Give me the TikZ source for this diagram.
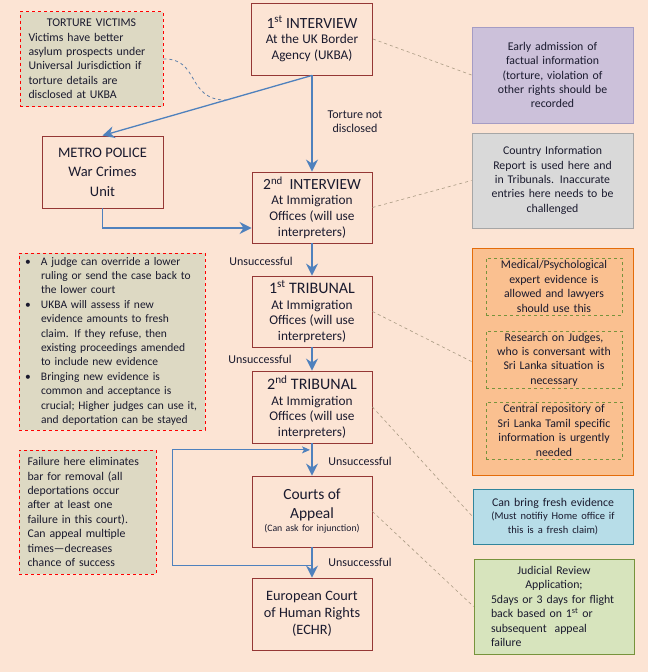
\documentclass[tikz,border=0pt]{standalone}
\usepackage{fontspec}
\setmainfont{Carlito}
\usetikzlibrary{arrows.meta,calc}
\definecolor{bg}{HTML}{FCE4D4}
\definecolor{stageline}{HTML}{953735}
\definecolor{notefill}{HTML}{DDD9C3}
\definecolor{flowblue}{HTML}{4F81BD}
\definecolor{linkgrey}{HTML}{A89A82}
\definecolor{purplefill}{HTML}{CCC1DA}
\definecolor{purpleline}{HTML}{A59CC4}
\definecolor{greyfill}{HTML}{D9D9D9}
\definecolor{greyline}{HTML}{A6A6A6}
\definecolor{orangefill}{HTML}{FAC090}
\definecolor{orangeline}{HTML}{E46C0A}
\definecolor{greenline}{HTML}{77933C}
\definecolor{greenfill}{HTML}{D7E4BD}
\definecolor{bluefill}{HTML}{B7DDE8}
\definecolor{blueline}{HTML}{31859C}
\definecolor{inktext}{HTML}{1A1A2E}
\newcommand\boxhead{\fontsize{15.5}{19}\selectfont}
\newcommand\boxtext{\fontsize{13.3}{15.7}\selectfont}
\newcommand\notetext{\fontsize{11.8}{14.4}\selectfont}
\tikzset{
  stage/.style={draw=stageline, line width=0.9pt, fill=bg, minimum width=120pt,
    minimum height=71pt, text width=118pt, align=center, inner sep=1pt, text=inktext},
  note/.style={draw=red, dashed, line width=0.7pt, fill=notefill, inner sep=0pt,
    font=\notetext, text=inktext},
  card/.style={line width=0.9pt, inner sep=0pt, font=\notetext, align=center, text=inktext},
  flow/.style={draw=flowblue, line width=1.3pt, -{Stealth[length=12pt,width=12pt,inset=4pt]}},
  back/.style={draw=flowblue, line width=1pt, -{Stealth[length=8pt,width=7pt,inset=2pt]}},
  link/.style={draw=linkgrey, dashed, line width=0.6pt},
  hint/.style={draw=flowblue!70!gray, dashed, line width=0.8pt},
  lbl/.style={font=\fontsize{12}{14.3}\selectfont, text=inktext, align=center}
}
\begin{document}
\begin{tikzpicture}[x=1pt,y=-1pt]
% background
\fill[bg] (0,0) rectangle (648,672);
\useasboundingbox (0,0) rectangle (648,672);
% stages
\node[stage, minimum width=121pt, minimum height=72pt] (int1) at (312,39)
  {\boxhead 1\textsuperscript{st} INTERVIEW\par\boxtext At the UK Border\\ Agency (UKBA)\par};
\node[stage, minimum width=121pt, minimum height=72pt] (metro) at (102.5,172)
  {\fontsize{14.5}{19.5}\selectfont METRO POLICE\\ War Crimes\\ Unit\par};
\node[stage] (int2) at (312,207.5)
  {\boxhead 2\textsuperscript{nd}\ \ INTERVIEW\par\boxtext At Immigration\\ Offices (will use\\ interpreters)\par};
\node[stage] (trib1) at (312,311.5)
  {\fontsize{16}{19}\selectfont 1\textsuperscript{st} TRIBUNAL\par\boxtext At Immigration\\ Offices (will use\\ interpreters)\par};
\node[stage, minimum height=72pt] (trib2) at (312,407)
  {\fontsize{16}{19}\selectfont 2\textsuperscript{nd} TRIBUNAL\par\boxtext At Immigration\\ Offices (will use\\ interpreters)\par};
\node[stage] (appeal) at (312,511.5)
  {\fontsize{15.5}{19}\selectfont Courts of\\ Appeal\par\fontsize{9.8}{13}\selectfont (Can ask for injunction)\par};
\node[stage, minimum height=72pt] (echr) at (312,614)
  {\fontsize{14.3}{17.3}\selectfont European Court\\ of Human Rights\\ (ECHR)\par};
% left notes
\node[note, minimum width=143pt, minimum height=95pt, text width=126pt, align=left] (victims) at (91.5,59)
  {{\centering TORTURE VICTIMS\par}Victims have better\\ asylum prospects under\\ Universal Jurisdiction if\\ torture\ details are\\ disclosed at UKBA\par};
\node[note, font=\fontsize{11.5}{14.4}\selectfont, minimum width=186pt, minimum height=177pt, text width=180pt, align=left] (judges) at (112,341.5)
  {\begin{tabular}{@{\hspace{3pt}}p{16pt}@{}l@{}}
   \textbullet & A judge can override\ a lower\\
               & ruling or send the case back to\\
               & the lower court\\
   \textbullet & UKBA will assess if new\\
               & evidence\ amounts to fresh\\
               & claim. If they refuse, then\\
               & existing proceedings amended\\
               & to include new\ evidence\\
   \textbullet & Bringing new evidence\ is\\
               & common and acceptance is\\
               & crucial; Higher judges can use it,\\
               & and deportation\ can be stayed
   \end{tabular}};
\node[note, minimum width=137pt, minimum height=124pt, text width=120pt, align=left] (failure) at (87.5,512)
  {Failure here eliminates\\ bar for removal (all\\ deportations\ occur\\ after at least one\\ failure in this court).\\ Can appeal multiple\\ times---decreases\\ chance of success\par};
% right notes
\node[card, draw=purpleline, fill=purplefill, minimum width=161pt, minimum height=96pt, text width=150pt] (early) at (552.5,75)
  {Early admission of\\ factual information\\ (torture, violation\ of\\ other rights should be\\ recorded\par};
\node[card, draw=greyline, fill=greyfill, minimum width=161pt, minimum height=95pt, text width=150pt] (country) at (552.5,180.5)
  {Country\ Information\\ Report is used here and\\ in Tribunals. Inaccurate\\ entries here needs to be\\ challenged\par};
\node[card, draw=orangeline, fill=orangefill, minimum width=161pt, minimum height=227pt] (infobox) at (552.5,361.5) {};
\node[card, draw=greenline, dashed, line width=0.6pt, minimum width=136pt, minimum height=57pt, text width=134pt] (medical) at (554,286.5)
  {Medical/Psychological\\ expert evidence\ is\\ allowed and lawyers\\ should use this\par};
\node[card, draw=greenline, dashed, line width=0.6pt, minimum width=136pt, minimum height=57pt, text width=134pt] (research) at (554,359.5)
  {Research on Judges,\\ who is conversant with\\ Sri Lanka situation is\\ necessary\par};
\node[card, draw=greenline, dashed, line width=0.6pt, minimum width=136pt, minimum height=57pt, text width=134pt] (repo) at (554,430.5)
  {Central repository of\\ Sri Lanka Tamil specific\\ information is urgently\\ needed\par};
\node[card, draw=blueline, fill=bluefill, minimum width=160pt, minimum height=55pt, text width=150pt] (fresh) at (553,516.5)
  {Can bring fresh evidence\par\fontsize{10.5}{13.3}\selectfont (Must notifiy Home office if\\ this is a fresh claim)\par};
\node[card, draw=greenline, fill=greenfill, minimum width=160pt, minimum height=95pt, text width=126pt, align=left] (review) at (554,606.5)
  {{\centering Judicial Review\\ Application;\par}5days or 3 days for flight\\ back based on 1\textsuperscript{st} or\\ subsequent\ \ appeal\\ failure\par};
% labels
\node[lbl] (notdisc) at (355,122) {Torture not\\ disclosed};
\node[lbl] (uns1) at (261,261) {Unsuccessful};
\node[lbl] (uns2) at (260,359) {Unsuccessful};
\node[lbl] (uns3) at (360,461) {Unsuccessful};
\node[lbl] (uns4) at (360,562) {Unsuccessful};
% dashed links
\draw[link] (int1.east) -- (early.west);
\draw[link] (int2.east) -- (country.west);
\draw[link] (trib1.east) -- (infobox.west);
\draw[link] (trib2.east) -- (fresh.west);
\draw[link] (appeal.east) -- (review.west);
% torture hint
\coordinate (tv) at ($(int1.south)!0.41!(metro.north)$);
\draw[hint] (victims.east) .. controls (200,58) and (186,100) .. (tv);
% loop back
\coordinate (la) at ($(appeal.south)!0.6!(echr.north)$);
\coordinate (lb) at ($(trib2.south)!0.2!(appeal.north)$);
\coordinate (lc) at (172,0);
\draw[back] (la) -- (la -| lc) |- ([xshift=-2pt]lb);
% flow
\draw[flow] (int1.south) -- (int2.north);
\draw[flow] (int1.south) -- (metro.north);
\draw[flow] (metro.south) |- ([yshift=-20.5pt]int2.west);
\draw[flow] (int2.south) -- (trib1.north);
\draw[flow] (trib1.south) -- (trib2.north);
\draw[flow] (trib2.south) -- (appeal.north);
\draw[flow] (appeal.south) -- (echr.north);
\end{tikzpicture}
\end{document}
